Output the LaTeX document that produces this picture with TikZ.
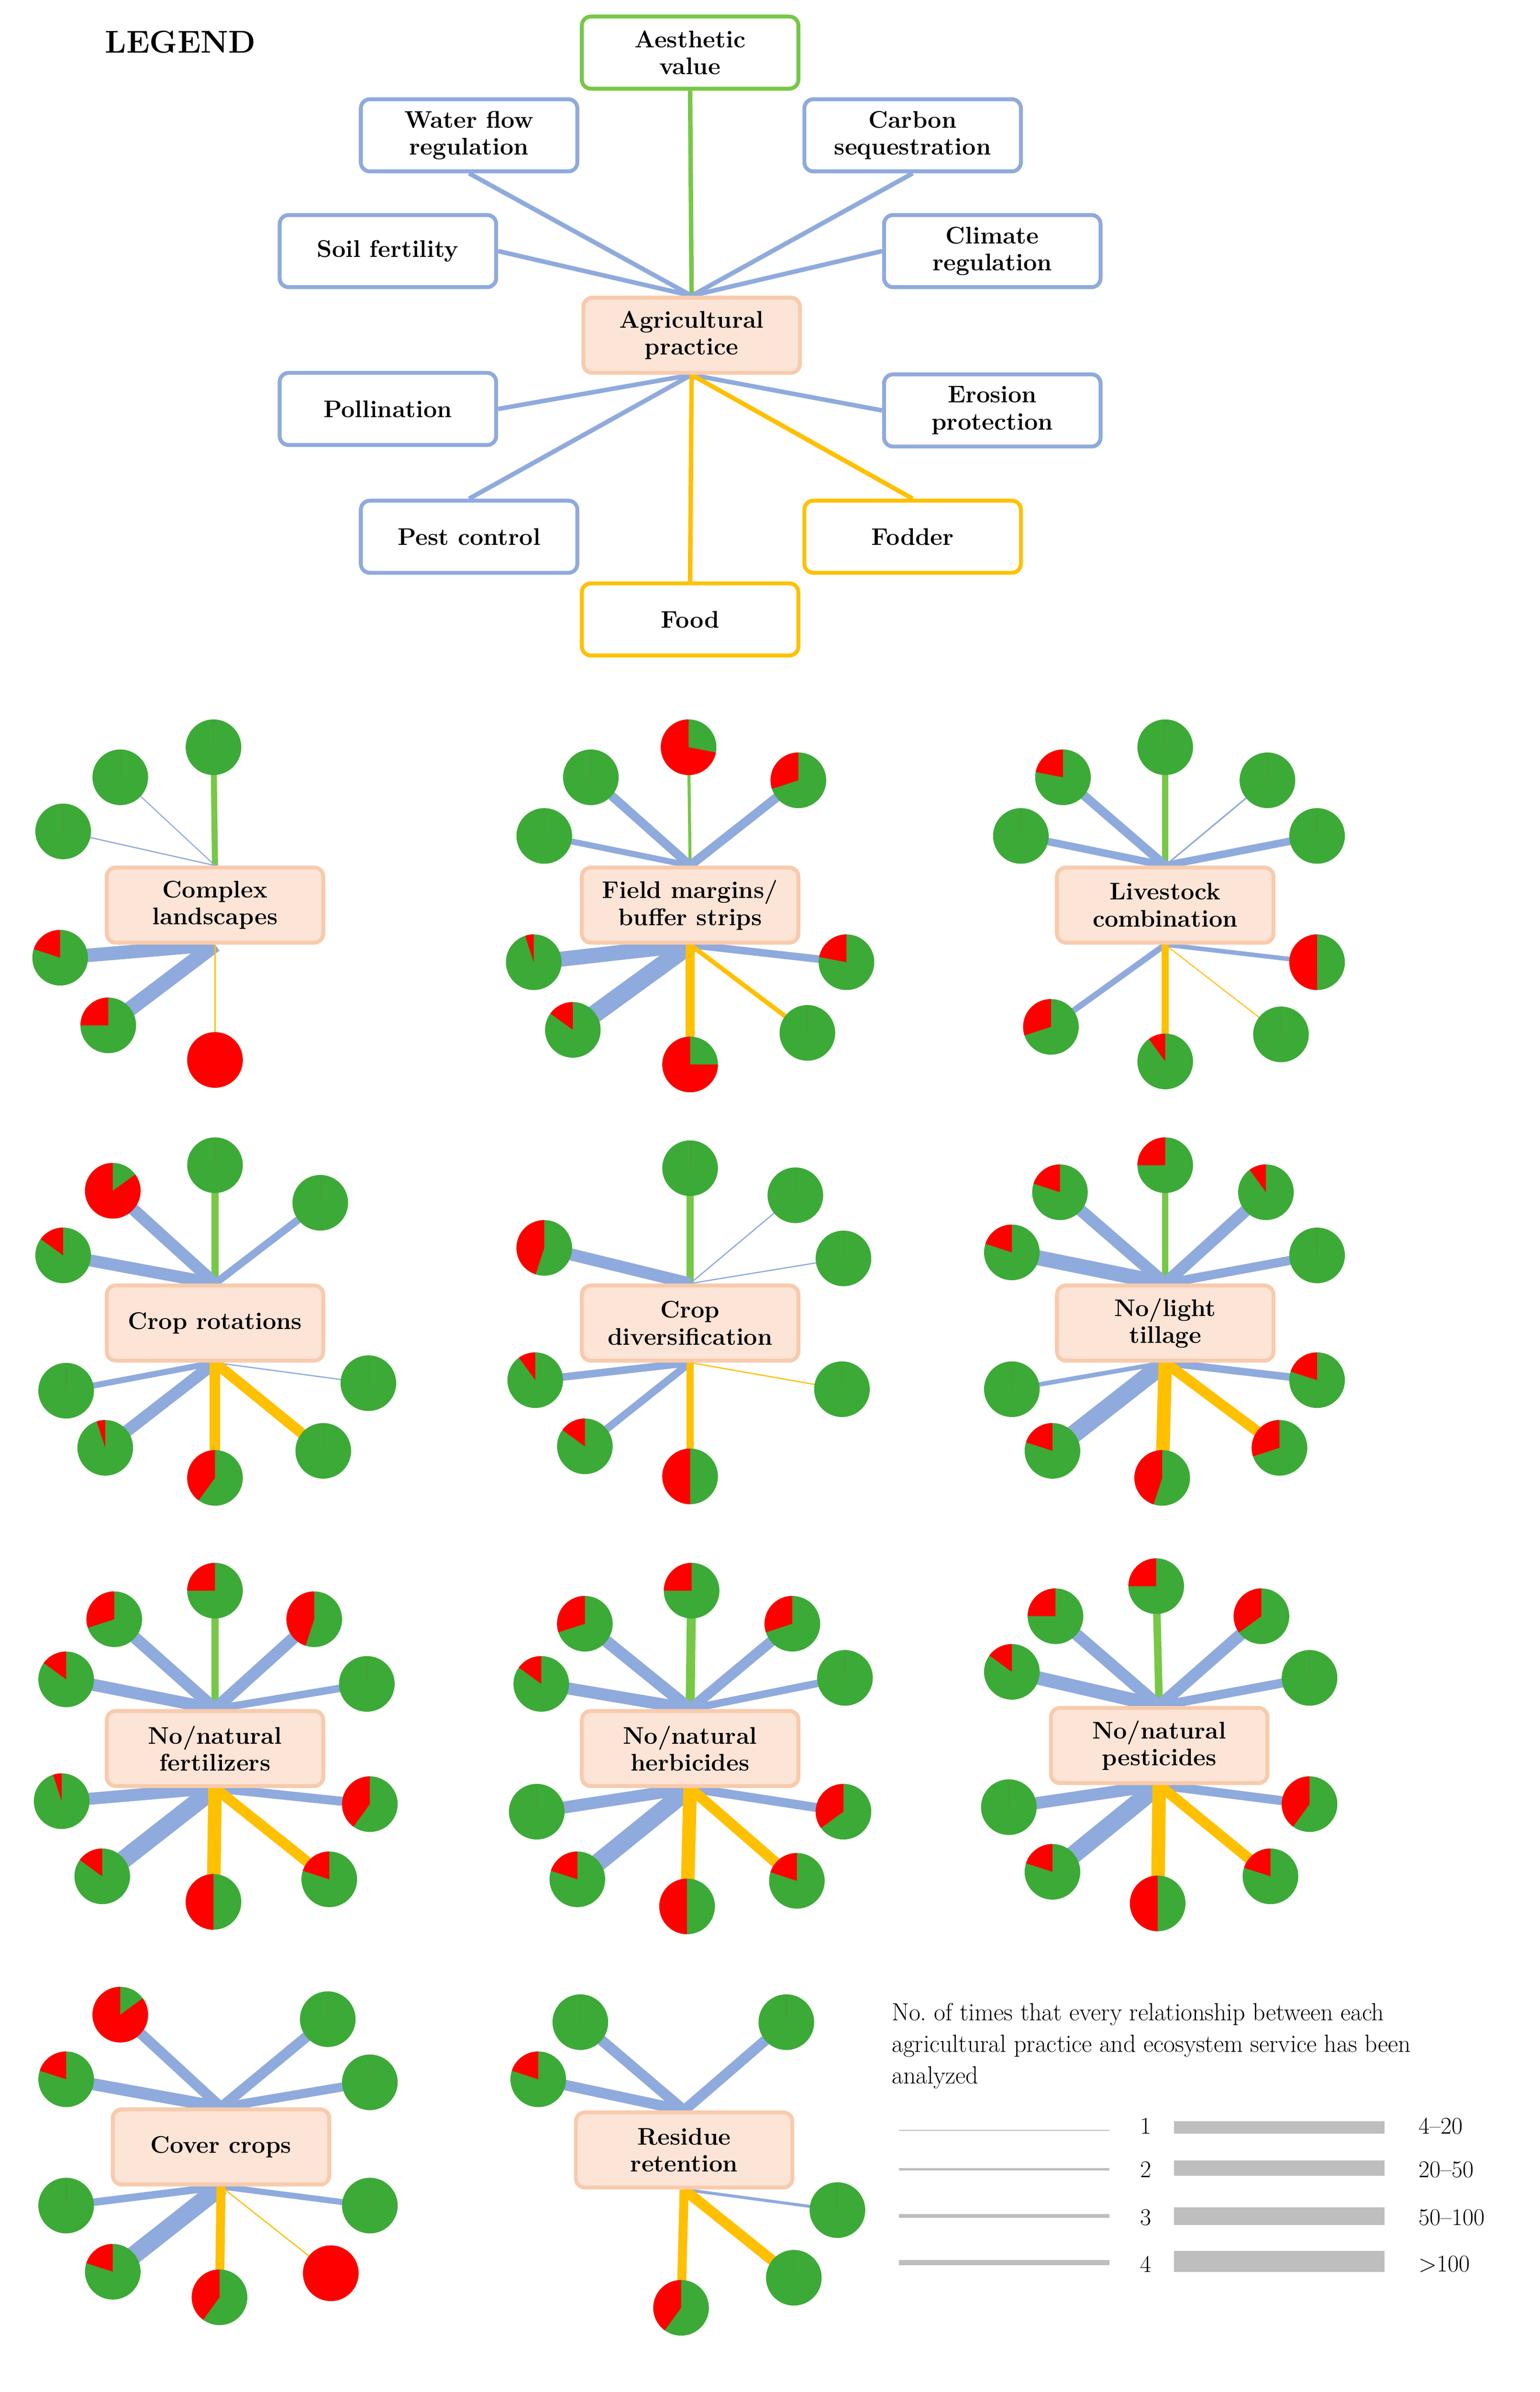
\documentclass[tikz,border=0pt]{standalone}
\usetikzlibrary{backgrounds}
\definecolor{bl}{RGB}{143,170,220}
\definecolor{gl}{RGB}{118,200,70}
\definecolor{yl}{RGB}{255,192,0}
\definecolor{pg}{RGB}{60,170,55}
\definecolor{pr}{RGB}{255,0,0}
\definecolor{bxf}{RGB}{252,228,214}
\definecolor{bxd}{RGB}{248,203,173}
\definecolor{gr}{RGB}{190,190,190}
\tikzset{
 lg/.style={draw=#1,line width=2.6pt,rounded corners=6pt,minimum width=144pt,minimum height=48pt,align=center,font=\fontsize{16}{18}\selectfont\bfseries,fill=white},
 ap/.style={draw=bxd,fill=bxf,line width=2.6pt,rounded corners=6pt,minimum width=144pt,minimum height=50pt,align=center,font=\fontsize{16}{18}\selectfont\bfseries},
}
\newcommand\svc[7]{%
 \begin{pgfonlayer}{background}\draw[#5,line width=#6pt] (#1.#2) -- (#3,#4);\end{pgfonlayer}
 \fill[pg] (#3,#4) circle (18.5);
 \pgfmathsetmacro\myang{-90-360*#7}
 \fill[pr] (#3,#4) -- +(-90:18.5) arc (-90:\myang:18.5) -- cycle;
}
\begin{document}
\begin{tikzpicture}[x=1pt,y=-1pt]
\useasboundingbox (0,0) rectangle (1024,1591);
\node (LEG) at (120,28) {\fontsize{21}{23}\selectfont\bfseries LEGEND};
% legend
\node[ap] (AP) at (460,223) {Agricultural\\practice};
\node[lg=gl] (AE) at (459,35) {Aesthetic\\value};
\node[lg=bl] (WF) at (312,90) {Water flow\\regulation};
\node[lg=bl] (CS) at (607,90) {Carbon\\sequestration};
\node[lg=bl] (SF) at (258,167) {Soil fertility};
\node[lg=bl] (CR) at (660,167) {Climate\\regulation};
\node[lg=bl] (PO) at (258,272) {Pollination};
\node[lg=bl] (EP) at (660,273) {Erosion\\protection};
\node[lg=bl] (PC) at (312,357) {Pest control};
\node[lg=yl] (FO) at (607,357) {Fodder};
\node[lg=yl] (FD) at (459,412) {Food};
\begin{pgfonlayer}{background}
\draw[gl,line width=3pt] (AP.north) -- (AE.south);
\draw[bl,line width=3pt] (AP.north) -- (WF.south) (AP.north) -- (CS.south) (AP.north) -- (SF.east) (AP.north) -- (CR.west);
\draw[bl,line width=3pt] (AP.south) -- (PO.east) (AP.south) -- (EP.west) (AP.south) -- (PC.north);
\draw[yl,line width=3pt] (AP.south) -- (FO.north) (AP.south) -- (FD.north);
\end{pgfonlayer}
% panel 1
\node[ap] (P1) at (143,602) {Complex\\landscapes};
\svc{P1}{north}{142}{497}{gl}{4}{0}
\svc{P1}{north}{80}{517}{bl}{0.7}{0}
\svc{P1}{north}{42}{553}{bl}{0.8}{0}
\svc{P1}{south}{40}{637}{bl}{9}{0.2}
\svc{P1}{south}{72}{682}{bl}{10}{0.25}
\svc{P1}{south}{143}{705}{yl}{0.8}{1}
% panel 2
\node[ap] (P2) at (459,602) {Field margins/\\buffer strips};
\svc{P2}{north}{458}{497}{gl}{2}{0.72}
\svc{P2}{north}{393}{517}{bl}{6}{0}
\svc{P2}{north}{531}{519}{bl}{6}{0.3}
\svc{P2}{north}{362}{556}{bl}{4}{0}
\svc{P2}{south}{355}{640}{bl}{10}{0.05}
\svc{P2}{south}{563}{640}{bl}{5}{0.22}
\svc{P2}{south}{381}{685}{bl}{12}{0.15}
\svc{P2}{south}{459}{708}{yl}{6}{0.75}
\svc{P2}{south}{537}{687}{yl}{3}{0}
% panel 3
\node[ap] (P3) at (775,602) {Livestock\\combination};
\svc{P3}{north}{775}{497}{gl}{4}{0}
\svc{P3}{north}{707}{517}{bl}{6}{0.22}
\svc{P3}{north}{843}{519}{bl}{1}{0}
\svc{P3}{north}{679}{556}{bl}{5}{0}
\svc{P3}{north}{876}{556}{bl}{5}{0}
\svc{P3}{south}{876}{640}{bl}{3}{0.5}
\svc{P3}{south}{699}{683}{bl}{4}{0.3}
\svc{P3}{south}{775}{706}{yl}{5}{0.1}
\svc{P3}{south}{852}{688}{yl}{0.7}{0}
% panel 4
\node[ap] (P4) at (143,880) {Crop rotations};
\svc{P4}{north}{143}{775}{gl}{5}{0}
\svc{P4}{north}{75}{792}{bl}{8}{0.85}
\svc{P4}{north}{213}{800}{bl}{5}{0}
\svc{P4}{north}{42}{835}{bl}{8}{0.15}
\svc{P4}{south}{44}{925}{bl}{4}{0}
\svc{P4}{south}{245}{920}{bl}{0.8}{0}
\svc{P4}{south}{70}{963}{bl}{8}{0.05}
\svc{P4}{south}{143}{983}{yl}{7}{0.4}
\svc{P4}{south}{215}{965}{yl}{7}{0}
% panel 5
\node[ap] (P5) at (459,880) {Crop\\diversification};
\svc{P5}{north}{459}{777}{gl}{5}{0}
\svc{P5}{north}{362}{830}{bl}{8}{0.45}
\svc{P5}{north}{529}{795}{bl}{0.8}{0}
\svc{P5}{north}{561}{837}{bl}{0.8}{0}
\svc{P5}{south}{356}{918}{bl}{5}{0.1}
\svc{P5}{south}{389}{962}{bl}{5}{0.15}
\svc{P5}{south}{459}{982}{yl}{5}{0.5}
\svc{P5}{south}{560}{924}{yl}{0.8}{0}
% panel 6
\node[ap] (P6) at (775,880) {No/light\\tillage};
\svc{P6}{north}{775}{775}{gl}{4}{0.25}
\svc{P6}{north}{705}{793}{bl}{8}{0.2}
\svc{P6}{north}{842}{793}{bl}{8}{0.1}
\svc{P6}{north}{673}{833}{bl}{10}{0.2}
\svc{P6}{north}{876}{835}{bl}{6}{0}
\svc{P6}{south}{673}{924}{bl}{3}{0}
\svc{P6}{south}{876}{918}{bl}{5}{0.2}
\svc{P6}{south}{700}{965}{bl}{12}{0.2}
\svc{P6}{south}{773}{983}{yl}{9}{0.45}
\svc{P6}{south}{851}{963}{yl}{7}{0.3}
% panel 7
\node[ap] (P7) at (143,1163) {No/natural\\fertilizers};
\svc{P7}{north}{143}{1058}{gl}{5}{0.25}
\svc{P7}{north}{76}{1077}{bl}{8}{0.3}
\svc{P7}{north}{209}{1077}{bl}{8}{0.45}
\svc{P7}{north}{44}{1117}{bl}{8}{0.15}
\svc{P7}{north}{244}{1120}{bl}{5}{0}
\svc{P7}{south}{41}{1198}{bl}{8}{0.05}
\svc{P7}{south}{246}{1200}{bl}{6}{0.4}
\svc{P7}{south}{68}{1248}{bl}{12}{0.15}
\svc{P7}{south}{142}{1265}{yl}{9}{0.5}
\svc{P7}{south}{219}{1250}{yl}{7}{0.2}
% panel 8
\node[ap] (P8) at (459,1163) {No/natural\\herbicides};
\svc{P8}{north}{460}{1058}{gl}{6}{0.25}
\svc{P8}{north}{389}{1080}{bl}{8}{0.3}
\svc{P8}{north}{527}{1080}{bl}{7}{0.3}
\svc{P8}{north}{360}{1120}{bl}{8}{0.15}
\svc{P8}{north}{562}{1116}{bl}{5}{0}
\svc{P8}{south}{357}{1205}{bl}{8}{0}
\svc{P8}{south}{561}{1205}{bl}{6}{0.35}
\svc{P8}{south}{384}{1250}{bl}{12}{0.2}
\svc{P8}{south}{457}{1268}{yl}{9}{0.5}
\svc{P8}{south}{530}{1251}{yl}{7}{0.2}
% panel 9
\node[ap] (P9) at (771,1161) {No/natural\\pesticides};
\svc{P9}{north}{769}{1055}{gl}{5}{0.25}
\svc{P9}{north}{702}{1075}{bl}{8}{0.25}
\svc{P9}{north}{839}{1075}{bl}{8}{0.35}
\svc{P9}{north}{673}{1112}{bl}{9}{0.15}
\svc{P9}{north}{871}{1116}{bl}{6}{0}
\svc{P9}{south}{671}{1202}{bl}{8}{0}
\svc{P9}{south}{871}{1200}{bl}{6}{0.4}
\svc{P9}{south}{700}{1245}{bl}{12}{0.2}
\svc{P9}{south}{770}{1266}{yl}{9}{0.5}
\svc{P9}{south}{845}{1248}{yl}{7}{0.2}
% panel 10
\node[ap] (P10) at (147,1428) {Cover crops};
\svc{P10}{north}{80}{1340}{bl}{7}{0.85}
\svc{P10}{north}{218}{1343}{bl}{7}{0}
\svc{P10}{north}{44}{1383}{bl}{8}{0.2}
\svc{P10}{north}{246}{1385}{bl}{6}{0}
\svc{P10}{south}{44}{1467}{bl}{5}{0}
\svc{P10}{south}{246}{1467}{bl}{4}{0}
\svc{P10}{south}{75}{1511}{bl}{12}{0.2}
\svc{P10}{south}{146}{1528}{yl}{6}{0.4}
\svc{P10}{south}{220}{1512}{yl}{0.8}{1}
% panel 11
\node[ap] (P11) at (455,1430) {Residue\\retention};
\svc{P11}{north}{386}{1345}{bl}{7}{0}
\svc{P11}{north}{523}{1345}{bl}{7}{0}
\svc{P11}{north}{358}{1383}{bl}{7}{0.2}
\svc{P11}{south}{557}{1470}{bl}{2}{0}
\svc{P11}{south}{453}{1535}{yl}{6}{0.4}
\svc{P11}{south}{528}{1515}{yl}{7}{0}
% width legend
\node[anchor=north west,align=left,font=\fontsize{16.5}{21}\selectfont,inner sep=0pt] (TX) at (593,1332) {No.\ of times that every relationship between each\\agricultural practice and ecosystem service has been\\analyzed};
\coordinate (a1) at (598,1417); \coordinate (b1) at (738,1417);
\coordinate (a2) at (598,1443); \coordinate (b2) at (738,1443);
\coordinate (a3) at (598,1474); \coordinate (b3) at (738,1474);
\coordinate (a4) at (598,1505); \coordinate (b4) at (738,1505);
\draw[gr,line width=0.7pt] (a1) -- (b1);
\draw[gr,line width=1.6pt] (a2) -- (b2);
\draw[gr,line width=2.6pt] (a3) -- (b3);
\draw[gr,line width=3.4pt] (a4) -- (b4);
\coordinate (c1) at (781,1415); \coordinate (d1) at (921,1415);
\coordinate (c2) at (781,1442); \coordinate (d2) at (921,1442);
\coordinate (c3) at (781,1474); \coordinate (d3) at (921,1474);
\coordinate (c4) at (781,1504); \coordinate (d4) at (921,1504);
\draw[gr,line width=8pt] (c1) -- (d1);
\draw[gr,line width=10pt] (c2) -- (d2);
\draw[gr,line width=12pt] (c3) -- (d3);
\draw[gr,line width=14pt] (c4) -- (d4);
\tikzset{lbl/.style={font=\fontsize{16}{18}\selectfont}}
\node[lbl] (n1) at (762,1414) {1};
\node[lbl] (n2) at (762,1443) {2};
\node[lbl] (n3) at (762,1475) {3};
\node[lbl] (n4) at (762,1506) {4};
\node[lbl,anchor=west] (m1) at (940,1414) {4--20};
\node[lbl,anchor=west] (m2) at (940,1443) {20--50};
\node[lbl,anchor=west] (m3) at (940,1475) {50--100};
\node[lbl,anchor=west] (m4) at (940,1506) {>100};
\end{tikzpicture}
\end{document}
